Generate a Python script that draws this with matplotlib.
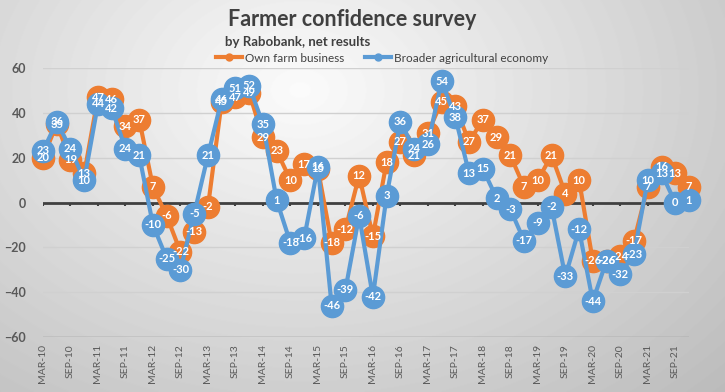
import matplotlib.pyplot as plt
from matplotlib.lines import Line2D
import numpy as np

plt.rcParams['font.family'] = ['Lato', 'DejaVu Sans']

# data, quarterly Mar-10 .. Dec-21
own_farm = [20, 35, 19, 13, 47, 46, 34, 37, 7, -6, -22, -13,
            -2, 45, 47, 49, 29, 23, 10, 17, 15, -18, -12, 12,
            -15, 18, 27, 21, 31, 45, 43, 27, 37, 29, 21, 7,
            10, 21, 4, 10, -26, -26, -24, -17, 7, 16, 13, 7]
broader = [23, 36, 24, 10, 44, 42, 24, 21, -10, -25, -30, -5,
           21, 46, 51, 52, 35, 1, -18, -16, 16, -46, -39, -6,
           -42, 3, 36, 24, 26, 54, 38, 13, 15, 2, -3, -17,
           -9, -2, -33, -12, -44, -26, -32, -23, 10, 13, 0, 1]
years = ['10', '11', '12', '13', '14', '15', '16', '17', '18', '19', '20', '21']
tick_labels = [m + '-' + y for y in years for m in ('MAR', 'SEP')]

ORANGE = '#ED7D31'
BLUE = '#5B9BD5'
TXT = '#595959'

fig = plt.figure(figsize=(7.25, 3.92), dpi=100)

# radial grey background
bg = fig.add_axes([0, 0, 1, 1], zorder=-10)
yy, xx = np.mgrid[0:392, 0:725]
r = np.sqrt(((xx - 300) / 520.0) ** 2 + ((yy - 90) / 380.0) ** 2)
shade = 0.985 - 0.22 * np.clip(r, 0, 1.3)
bg.imshow(shade, cmap='gray', vmin=0, vmax=1, aspect='auto', extent=[0, 1, 0, 1])
bg.axis('off')

ax = fig.add_axes([43 / 725, 1 - 337 / 392, 646 / 725, 269 / 392])
ax.patch.set_alpha(0)
x = np.arange(len(own_farm))

ax.set_xlim(0, len(own_farm) - 1)
ax.set_ylim(-60, 60)
ax.set_yticks(range(-60, 61, 20))
ax.yaxis.grid(True, color='#d0d0d0', lw=1)
ax.set_axisbelow(True)
for s in ax.spines.values():
    s.set_visible(False)
ax.axhline(-60, color='#8c8c8c', lw=1, zorder=1)
ax.axhline(0, color='#404040', lw=2, zorder=1)
ax.vlines(x[::2], -1.4, 0, color='#404040', lw=1.5, zorder=1)

ax.set_xticks(x[::2])
ax.set_xticklabels(tick_labels, rotation=90, fontsize=7.5, color=TXT)
ax.tick_params(axis='both', length=0)
ax.tick_params(axis='x', pad=5)
ax.tick_params(axis='y', pad=12, labelsize=9, labelcolor=TXT)
for t in ax.get_yticklabels():
    t.set_fontweight('bold')

# markers and lines first, all value labels on top (as Excel does)
for vals, col, z in ((own_farm, ORANGE, 3), (broader, BLUE, 5)):
    ax.plot(x, vals, color=col, lw=3, marker='o', ms=16, mec=col, mfc=col,
            zorder=z, clip_on=False)
for vals in (own_farm, broader):
    for xi, v in zip(x, vals):
        ax.text(xi, v, str(v), ha='center', va='center', color='white',
                fontsize=8, fontweight='bold', zorder=10)

fig.text(352 / 725, 1 - 20 / 392, 'Farmer confidence survey', ha='center',
         va='center', fontsize=15.5, fontweight='bold', color='#404040')
fig.text(225 / 725, 1 - 42 / 392, 'by Rabobank, net results', ha='left',
         va='center', fontsize=9.5, fontweight='bold', color='#404040')

handles = [Line2D([], [], color=ORANGE, lw=3, marker='o', ms=5),
           Line2D([], [], color=BLUE, lw=3, marker='o', ms=5)]
fig.legend(handles, ['Own farm business', 'Broader agricultural economy'],
           loc='center', bbox_to_anchor=(382 / 725, 1 - 58 / 392), ncol=2,
           frameon=False, fontsize=8.5, handlelength=2.2, handletextpad=0.2,
           columnspacing=1.8, labelcolor='#404040')

fig.savefig('out.png', dpi=100)
